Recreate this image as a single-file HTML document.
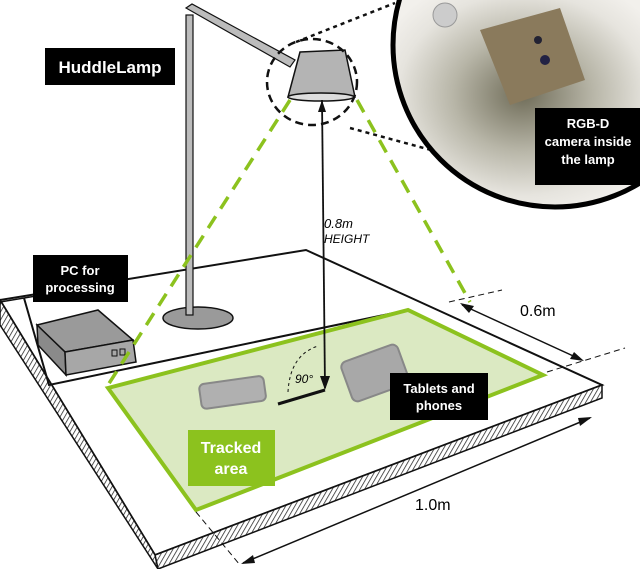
<!DOCTYPE html>
<html><head><meta charset="utf-8"><style>
html,body{margin:0;padding:0;background:#fff;}
svg{display:block;}
text{font-family:"Liberation Sans",sans-serif;}
</style></head><body>
<svg width="640" height="569" viewBox="0 0 640 569" xmlns="http://www.w3.org/2000/svg">
<defs>
<pattern id="h" width="4" height="4" patternUnits="userSpaceOnUse" patternTransform="rotate(30)">
<rect width="4" height="4" fill="#fff"/><line x1="0" y1="0" x2="0" y2="4" stroke="#222" stroke-width="1.5"/></pattern>
<clipPath id="cc"><circle cx="555" cy="45" r="162"/></clipPath>
<radialGradient id="pg" cx="0.55" cy="0.45" r="0.6"><stop offset="0" stop-color="#6f6c58"/><stop offset="0.45" stop-color="#b8b6a8"/><stop offset="0.8" stop-color="#e6e4de"/><stop offset="1" stop-color="#f2f0ec"/></radialGradient>
</defs>
<!-- table -->
<polygon points="0,300 306,250 602,385 155,555" fill="#fff" stroke="#111" stroke-width="2"/>
<polygon points="155,555 602,385 602,398 158,569" fill="url(#h)" stroke="#111" stroke-width="1.5"/>
<polygon points="0,300 155,555 158,569 0,325" fill="url(#h)" stroke="#111" stroke-width="1.5"/>
<polyline points="24,298 49,385 408,310" fill="none" stroke="#111" stroke-width="2"/>
<line x1="0" y1="302" x2="60" y2="292" stroke="#111" stroke-width="1.5"/>
<!-- green area -->
<polygon points="108,388 408,310 543,375 196,510" fill="#dbe9c2" stroke="#8cc21e" stroke-width="4"/>
<!-- devices -->
<rect x="200" y="380" width="65" height="25" rx="5" transform="rotate(-8 232 392)" fill="#b0b0b0" stroke="#888" stroke-width="2"/>
<rect x="345" y="352" width="60" height="42" rx="6" transform="rotate(-20 375 373)" fill="#a8a8a8" stroke="#888" stroke-width="2"/>
<!-- PC -->
<polygon points="37,325 98,310 133,340 65,352" fill="#9a9a9a" stroke="#111" stroke-width="1.5"/>
<polygon points="37,325 65,352 66,375 38,345" fill="#8a8a8a" stroke="#111" stroke-width="1.5"/>
<polygon points="65,352 133,340 136,362 66,375" fill="#a7a7a7" stroke="#111" stroke-width="1.5"/>
<rect x="112" y="350" width="5" height="6" fill="none" stroke="#111"/><rect x="120" y="349" width="5" height="6" fill="none" stroke="#111"/>
<!-- lamp -->
<ellipse cx="198" cy="318" rx="35" ry="11" fill="#9a9a9a" stroke="#111" stroke-width="1.5"/>
<rect x="186" y="15" width="7" height="300" fill="#bcbcbc" stroke="#111" stroke-width="1.2"/>
<polygon points="186,8 192,4 295,60 290,67" fill="#bcbcbc" stroke="#111" stroke-width="1.2"/>
<polygon points="300,52 345,50 355,97 288,97" fill="#b4b4b4" stroke="#111" stroke-width="1.5"/>
<ellipse cx="321" cy="97" rx="33" ry="4" fill="#ddd" stroke="#111" stroke-width="1.5"/>
<ellipse cx="312" cy="82" rx="45" ry="43" fill="none" stroke="#111" stroke-width="2.5" stroke-dasharray="8,5"/>
<line x1="296" y1="42" x2="395" y2="3" stroke="#111" stroke-width="2.5" stroke-dasharray="4,4"/>
<line x1="350" y1="128" x2="560" y2="185" stroke="#111" stroke-width="2.5" stroke-dasharray="4,4"/>
<!-- photo circle -->
<g clip-path="url(#cc)"><rect x="380" y="0" width="260" height="210" fill="url(#pg)"/>
<circle cx="445" cy="15" r="12" fill="#ccc" stroke="#999"/>
<polygon points="480,30 560,8 585,80 510,105" fill="#8a7a5c"/><circle cx="538" cy="40" r="4" fill="#223"/><circle cx="545" cy="60" r="5" fill="#224"/></g>
<circle cx="555" cy="45" r="162" fill="none" stroke="#000" stroke-width="5"/>
<!-- green dashed -->
<line x1="290" y1="100" x2="108" y2="385" stroke="#8cc21e" stroke-width="3.5" stroke-dasharray="14,9"/>
<line x1="357" y1="100" x2="470" y2="302" stroke="#8cc21e" stroke-width="3.5" stroke-dasharray="14,9"/>
<!-- height arrow -->
<line x1="322" y1="100" x2="325" y2="388" stroke="#111" stroke-width="1.8"/>
<polygon points="318,112 322,100 326,112" fill="#111"/><polygon points="320,376 325,390 330,376" fill="#111"/>
<line x1="278" y1="404" x2="325" y2="390" stroke="#111" stroke-width="3"/>
<path d="M288,392 Q290,355 318,346" fill="none" stroke="#111" stroke-dasharray="3,3"/>
<text x="295" y="383" font-size="12" font-style="italic">90°</text>
<text x="324" y="228" font-size="13" font-style="italic">0.8m</text><text x="324" y="243" font-size="12" font-style="italic">HEIGHT</text>
<!-- dimensions -->
<line x1="449" y1="302" x2="502" y2="290" stroke="#111" stroke-dasharray="6,4"/>
<line x1="547" y1="372" x2="625" y2="348" stroke="#111" stroke-dasharray="6,4"/>
<line x1="462" y1="305" x2="582" y2="360" stroke="#111" stroke-width="1.5"/>
<polygon points="460,303 474,306 469,313" fill="#111"/><polygon points="584,361 570,359 574,352" fill="#111"/>
<line x1="590" y1="418" x2="243" y2="563" stroke="#111" stroke-width="1.5"/>
<polygon points="592,417 580,426 578,418" fill="#111"/><polygon points="241,564 253,555 255,563" fill="#111"/>
<line x1="196" y1="512" x2="240" y2="565" stroke="#111" stroke-dasharray="6,4"/>
<text x="520" y="316" font-size="16">0.6m</text>
<text x="415" y="510" font-size="16">1.0m</text>
<!-- labels -->
<rect x="45" y="48" width="130" height="37" fill="#000"/><text x="110" y="73" font-size="17" font-weight="bold" fill="#fff" text-anchor="middle">HuddleLamp</text>
<rect x="33" y="255" width="95" height="47" fill="#000"/><text x="80" y="275" font-size="13" font-weight="bold" fill="#fff" text-anchor="middle">PC for</text><text x="80" y="292" font-size="13" font-weight="bold" fill="#fff" text-anchor="middle">processing</text>
<rect x="535" y="108" width="105" height="77" fill="#000"/><text x="588" y="128" font-size="13" font-weight="bold" fill="#fff" text-anchor="middle">RGB-D</text><text x="588" y="146" font-size="13" font-weight="bold" fill="#fff" text-anchor="middle">camera inside</text><text x="588" y="164" font-size="13" font-weight="bold" fill="#fff" text-anchor="middle">the lamp</text>
<rect x="390" y="373" width="98" height="47" fill="#000"/><text x="439" y="393" font-size="13" font-weight="bold" fill="#fff" text-anchor="middle">Tablets and</text><text x="439" y="410" font-size="13" font-weight="bold" fill="#fff" text-anchor="middle">phones</text>
<rect x="188" y="430" width="87" height="56" fill="#8cc21e"/><text x="231" y="453" font-size="16" font-weight="bold" fill="#fff" text-anchor="middle">Tracked</text><text x="231" y="474" font-size="16" font-weight="bold" fill="#fff" text-anchor="middle">area</text>
</svg>
</body></html>
